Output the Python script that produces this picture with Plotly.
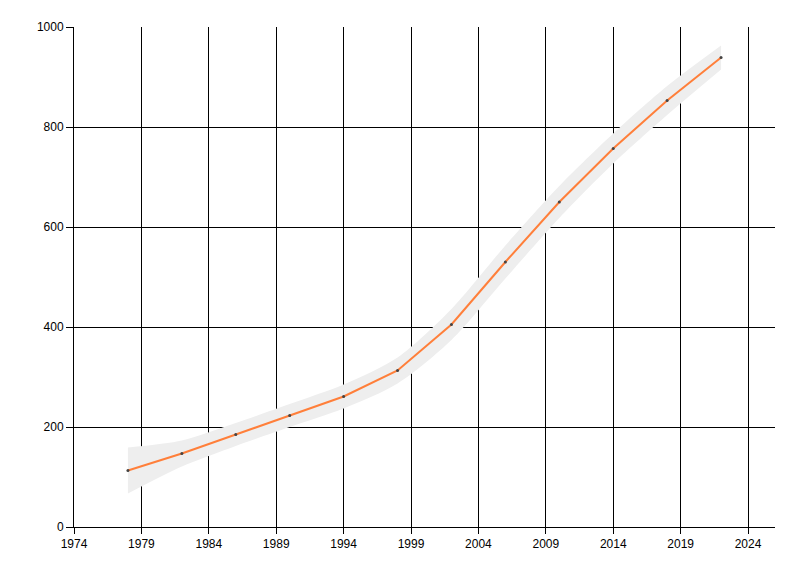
import plotly.graph_objects as go

years = [1978, 1982, 1986, 1990, 1994, 1998, 2002, 2006, 2010, 2014, 2018, 2022]
values = [113, 147, 185, 223, 261, 313, 405, 530, 650, 757, 853, 939]
upper = [159, 173, 208, 246, 285, 339, 436, 563, 682, 787, 882, 963]
lower = [67, 121, 162, 200, 237, 287, 374, 497, 618, 727, 824, 915]
x_ticks = [1974, 1979, 1984, 1989, 1994, 1999, 2004, 2009, 2014, 2019, 2024]
y_ticks = [0, 200, 400, 600, 800, 1000]

fig = go.Figure()
fig.add_trace(go.Scatter(x=years, y=upper, mode="lines", line=dict(width=0, shape="spline", smoothing=0.8),
                         hoverinfo="skip", showlegend=False))
fig.add_trace(go.Scatter(x=years, y=lower, mode="lines", line=dict(width=0, shape="spline", smoothing=0.8),
                         fill="tonexty", fillcolor="#EEEEEE", hoverinfo="skip", showlegend=False))
fig.add_trace(go.Scatter(x=years, y=values, mode="lines+markers",
                         line=dict(color="#FF7F3A", width=2),
                         marker=dict(color="#444444", size=3),
                         showlegend=False))

axis_font = dict(family="Liberation Sans, Arial, sans-serif", size=12, color="#000000")
fig.update_layout(
    width=800, height=576,
    margin=dict(l=66, r=33, t=19, b=57),
    paper_bgcolor="white", plot_bgcolor="white",
    font=axis_font,
    xaxis=dict(range=[1974, 2026], tickvals=x_ticks, showgrid=True, gridcolor="black", gridwidth=1,
               showline=True, linecolor="black", linewidth=1, ticks="outside", ticklen=6,
               tickcolor="black", zeroline=False, tickfont=axis_font),
    yaxis=dict(range=[0, 1000], tickvals=y_ticks, showgrid=True, gridcolor="black", gridwidth=1,
               showline=True, linecolor="black", linewidth=1, ticks="outside", ticklen=7,
               tickcolor="black", zeroline=False, tickfont=axis_font),
)
fig.write_html("out.html")
